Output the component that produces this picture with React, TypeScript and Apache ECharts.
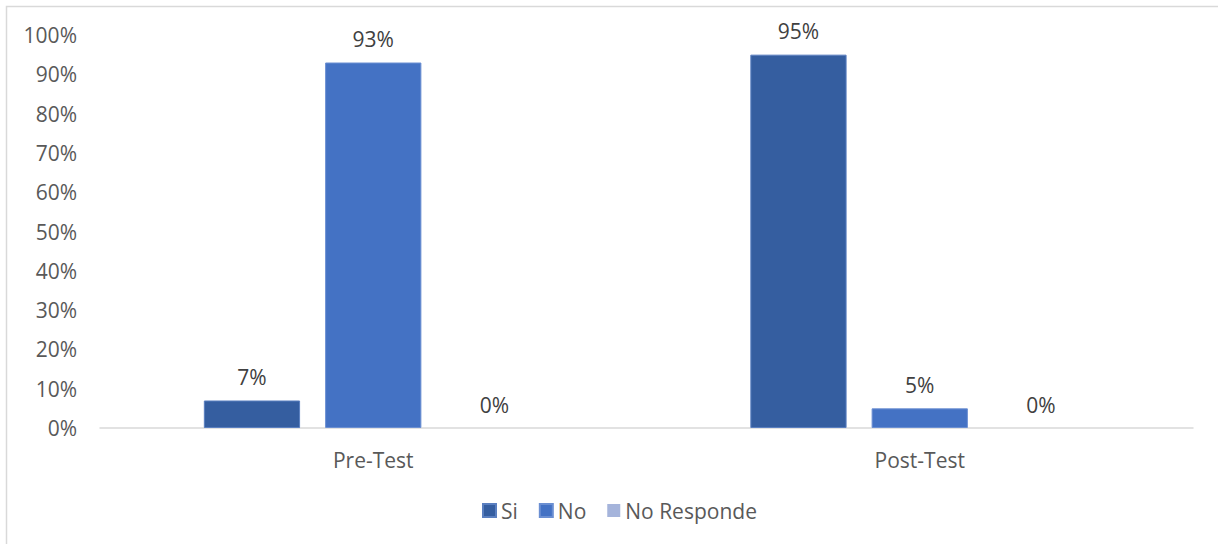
import React, { useEffect, useRef } from "react";
import * as echarts from "echarts";

const categories = ["Pre-Test", "Post-Test"];
const siValues = [7, 95];
const noValues = [93, 5];
const noRespondeValues = [0, 0];
const yTicks = [0, 10, 20, 30, 40, 50, 60, 70, 80, 90, 100];

const FONT = "'Open Sans', 'Noto Sans', sans-serif";
const TXT = "#595959";
const FS = 21;

export default function App() {
  const ref = useRef<HTMLDivElement>(null);
  useEffect(() => {
    if (!ref.current) return;
    const chart = echarts.init(ref.current, undefined, { renderer: "svg" });
    const label = {
      show: true,
      position: "top",
      distance: 13,
      color: "#404040",
      fontSize: FS,
      fontFamily: FONT,
      formatter: (p: any) => p.value + "%",
    };
    chart.setOption({
      animation: false,
      textStyle: { fontFamily: FONT },
      graphic: [
        {
          type: "rect",
          shape: { x: 6.5, y: 6.5, width: 1240, height: 600 },
          style: { fill: "none", stroke: "#d9d9d9", lineWidth: 1.5 },
          silent: true,
        },
      ],
      grid: { left: 100, right: 25, top: 35, bottom: 116 },
      legend: {
        bottom: 18,
        left: 477,
        itemWidth: 13,
        itemHeight: 13,
        itemGap: 21,
        icon: "rect",
        textStyle: { color: TXT, fontSize: FS, fontFamily: FONT },
        data: ["Si", "No", "No Responde"],
      },
      xAxis: {
        type: "category",
        data: categories,
        axisLine: { lineStyle: { color: "#d9d9d9", width: 1.5 } },
        axisTick: { show: false },
        axisLabel: { color: TXT, fontSize: FS, fontFamily: FONT, margin: 21 },
      },
      yAxis: {
        type: "value",
        min: yTicks[0],
        max: yTicks[yTicks.length - 1],
        interval: 10,
        axisLine: { show: false },
        axisTick: { show: false },
        splitLine: { show: false },
        axisLabel: {
          color: TXT,
          fontSize: FS,
          fontFamily: FONT,
          margin: 23,
          formatter: (v: number) => v + "%",
        },
      },
      series: [
        {
          name: "Si",
          type: "bar",
          data: siValues,
          barGap: "26%",
          barCategoryGap: "38%",
          itemStyle: { color: "#355EA0", borderColor: "#5a7fc0", borderWidth: 1 },
          label,
        },
        {
          name: "No",
          type: "bar",
          data: noValues,
          itemStyle: { color: "#4472C4", borderColor: "#6b8fd2", borderWidth: 1 },
          label,
        },
        {
          name: "No Responde",
          type: "bar",
          data: noRespondeValues,
          itemStyle: { color: "#A5B4DB" },
          label,
        },
      ],
    });
    return () => chart.dispose();
  }, []);
  return (
    <div
      ref={ref}
      style={{ position: "absolute", left: 0, top: 0, width: 1218, height: 544, background: "#fff" }}
    />
  );
}
